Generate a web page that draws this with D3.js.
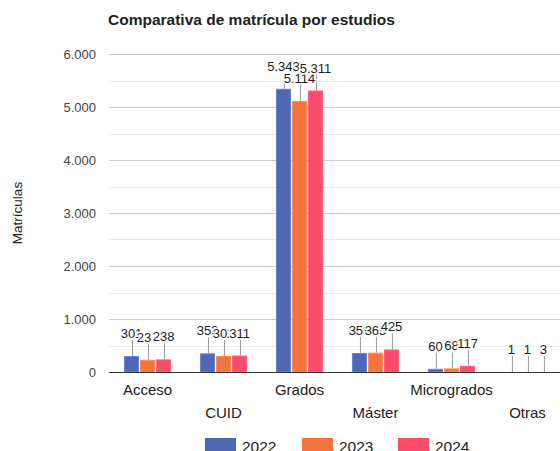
<!DOCTYPE html>
<html>
<head>
<meta charset="utf-8">
<script src="https://cdn.jsdelivr.net/npm/d3@7"></script>
<style>
  body { margin: 0; background: #fff; }
  text { font-family: Arial, "Liberation Sans", sans-serif; }
</style>
</head>
<body>
<div id="chart"></div>
<script>
var categories = ["Acceso", "CUID", "Grados", "Máster", "Microgrados", "Otras"];
var years = ["2022", "2023", "2024"];
var v2022 = [301, 352, 5343, 358, 60, 1];
var v2023 = [231, 302, 5114, 365, 68, 1];
var v2024 = [238, 311, 5311, 425, 117, 3];
var yTicks = [0, 1000, 2000, 3000, 4000, 5000, 6000];
var colors = ["#5068b4", "#f4733f", "#fa4d6b"];

var series = [v2022, v2023, v2024];
var fmt = d3.formatLocale({ decimal: ",", thousands: ".", grouping: [3], currency: ["", "€"] }).format(",d");

var W = 560, H = 451;
var plotLeft = 109, plotTop = 54, chartW = 457, chartH = 318;

var svg = d3.select("#chart").append("svg").attr("width", W).attr("height", H);

var x = d3.scaleBand().domain(categories).range([plotLeft, plotLeft + chartW]).paddingInner(0.38).paddingOuter(0.197);
var xs = d3.scaleBand().domain(years).range([0, x.bandwidth()]).paddingInner(0.06);
var y = d3.scaleLinear().domain([0, 6000]).range([plotTop + chartH, plotTop]);

// minor gridlines
svg.append("g").selectAll("line").data(d3.range(500, 6000, 1000)).enter().append("line")
  .attr("x1", plotLeft).attr("x2", W).attr("y1", d => Math.round(y(d)) + 0.5).attr("y2", d => Math.round(y(d)) + 0.5)
  .attr("stroke", "#ebebeb");
// major gridlines
svg.append("g").selectAll("line").data(yTicks.slice(1)).enter().append("line")
  .attr("x1", plotLeft).attr("x2", W).attr("y1", d => Math.round(y(d)) + 0.5).attr("y2", d => Math.round(y(d)) + 0.5)
  .attr("stroke", "#cccccc");

var yAxis = svg.append("g").attr("transform", "translate(" + (plotLeft - 13) + ",0)")
  .call(d3.axisLeft(y).tickValues(yTicks).tickSize(0).tickPadding(0).tickFormat(fmt));
yAxis.select(".domain").remove();
yAxis.selectAll("text").attr("font-size", 13).attr("fill", "#444").attr("dy", "0.35em")
  .style("font-family", "Arial, 'Liberation Sans', sans-serif");

// bars
var groups = svg.append("g").selectAll("g").data(categories).enter().append("g")
  .attr("transform", d => "translate(" + x(d) + ",0)");
groups.selectAll("rect").data((c, i) => years.map((yr, j) => ({ yr: yr, v: series[j][i], j: j })))
  .enter().append("rect")
  .attr("x", d => xs(d.yr) + 0.5)
  .attr("y", d => y(d.v) + 0.5)
  .attr("width", xs.bandwidth() - 1)
  .attr("height", d => Math.max(0, y(0) - y(d.v) - 0.5))
  .attr("fill", d => colors[d.j])
  .attr("stroke", d => d3.color(colors[d.j]).brighter(0.6))
  .attr("stroke-width", 1);

// baseline
svg.append("line").attr("x1", plotLeft).attr("x2", W).attr("y1", y(0) + 0.5).attr("y2", y(0) + 0.5)
  .attr("stroke", "#333");

// annotations with stems
var stem = 16;
groups.each(function(c, i) {
  var g = d3.select(this);
  years.forEach(function(yr, j) {
    var v = series[j][i];
    var cx = xs(yr) + xs.bandwidth() / 2;
    g.append("line").attr("x1", Math.round(cx) + 0.5).attr("x2", Math.round(cx) + 0.5)
      .attr("y1", y(v)).attr("y2", y(v) - stem)
      .attr("stroke", "#999");
  });
  years.forEach(function(yr, j) {
    var v = series[j][i];
    var cx = xs(yr) + xs.bandwidth() / 2;
    g.append("text").attr("x", cx).attr("y", y(v) - stem - 2)
      .attr("text-anchor", "middle").attr("font-size", 13).attr("fill", "#222")
      .attr("stroke", "#fff").attr("stroke-width", 3).attr("paint-order", "stroke")
      .text(fmt(v));
  });
});

// category labels, staggered
svg.append("g").selectAll("text").data(categories).enter().append("text")
  .attr("x", d => x(d) + x.bandwidth() / 2)
  .attr("y", (d, i) => i % 2 === 0 ? 395 : 418)
  .attr("text-anchor", "middle").attr("font-size", 15).attr("fill", "#222")
  .text(d => d);

// title
svg.append("text").attr("x", 108).attr("y", 25).attr("font-size", 15.5).attr("font-weight", "bold")
  .attr("fill", "#222").text("Comparativa de matrícula por estudios");

// y label
svg.append("text").attr("transform", "translate(22," + (plotTop + chartH / 2) + ") rotate(-90)")
  .attr("text-anchor", "middle").attr("font-size", 13.5).attr("fill", "#222").text("Matrículas");

// legend
var lx = [205, 302, 398];
var leg = svg.append("g").selectAll("g").data(years).enter().append("g")
  .attr("transform", (d, i) => "translate(" + lx[i] + ",438)");
leg.append("rect").attr("width", 31).attr("height", 15).attr("fill", (d, i) => colors[i]);
leg.append("text").attr("x", 37).attr("y", 14).attr("font-size", 15.5).attr("fill", "#222").text(d => d);
</script>
</body>
</html>
